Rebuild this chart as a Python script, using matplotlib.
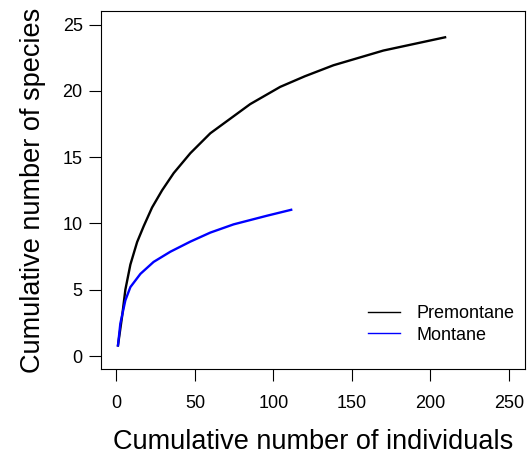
import matplotlib.pyplot as plt
from matplotlib.lines import Line2D

plt.rcParams['font.family'] = ['Liberation Sans', 'DejaVu Sans']

# rarefaction curves
prem_n = [1, 3.6, 5.7, 8.9, 13.2, 17.4, 22.7, 29.1, 36.5, 47.1, 59.8, 85.2, 104.3, 120, 138.2, 170, 209.3]
prem_s = [0.8, 2.97, 5.0, 6.9, 8.6, 9.8, 11.2, 12.5, 13.8, 15.3, 16.8, 19.0, 20.3, 21.1, 21.93, 23.04, 24.04]

mont_n = [1, 2.5, 5.7, 8.9, 15.3, 23.7, 34.4, 47.1, 59.8, 74.6, 95.8, 111.3]
mont_s = [0.8, 2.45, 4.2, 5.2, 6.2, 7.1, 7.87, 8.63, 9.31, 9.93, 10.58, 11.03]

x_ticks = [0, 50, 100, 150, 200, 250]
y_ticks = [0, 5, 10, 15, 20, 25]

W, H = 532, 454
fig = plt.figure(figsize=(W / 100, H / 100), dpi=100)
ax = fig.add_axes([100.7 / W, 1 - 369.3 / H, 424 / W, 358 / H])

ax.plot(prem_n, prem_s, color='black', lw=1.7)
ax.plot(mont_n, mont_s, color='blue', lw=1.7)

ax.set_xlim(-10, 260)
ax.set_ylim(-1, 26)
ax.set_xticks(x_ticks)
ax.set_yticks(y_ticks)
ax.tick_params(direction='out', length=8.5, width=0.8, labelsize=13)
ax.tick_params(axis='x', pad=10)
ax.tick_params(axis='y', pad=4.5)
for s in ax.spines.values():
    s.set_linewidth(0.8)

ax.set_xlabel("Cumulative number of individuals", fontsize=19.5, labelpad=12)
ax.set_ylabel("Cumulative number of species", fontsize=19.5, labelpad=12)

handles = [Line2D([], [], color='black', lw=1), Line2D([], [], color='blue', lw=1)]
ax.legend(handles, ["Premontane", "Montane"], loc='upper left',
          bbox_to_anchor=(367.7 / W, 1 - 305 / H), bbox_transform=fig.transFigure,
          borderaxespad=0, borderpad=0, frameon=False, fontsize=13,
          handlelength=1.8, handletextpad=0.93, labelspacing=0.25)

fig.savefig("out.png", dpi=100)
